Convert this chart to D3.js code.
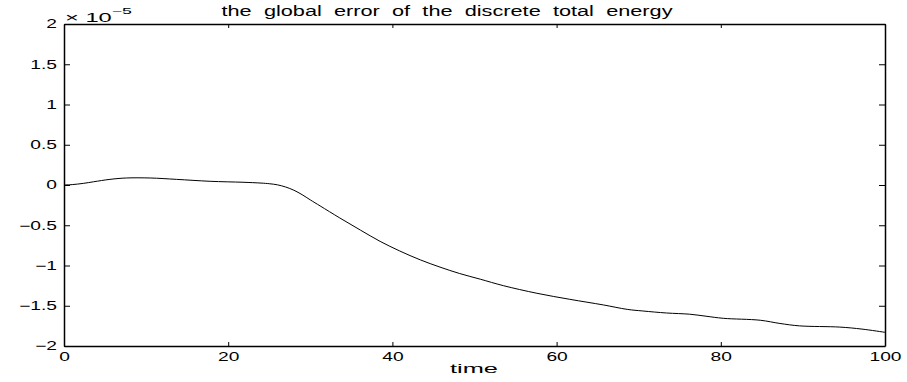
<!DOCTYPE html>
<html>
<head>
<meta charset="utf-8">
<script src="https://cdn.jsdelivr.net/npm/d3@7"></script>
<style>
  body { margin: 0; background: #fff; }
  svg text { font-family: "Liberation Sans", Arial, Helvetica, sans-serif; fill: #000; }
</style>
</head>
<body>
<svg id="chart"></svg>
<script>
/** chart data (error values in units of 1e-5) **/
var timeVals = [0, 1, 2.35, 3.6, 5.6, 7.6, 10.5, 13.7, 17.8, 21.8, 24, 25, 26, 27, 28, 29, 30,
                31.2, 33.6, 36.1, 38.5, 40.9, 43.4, 45.8, 48.2, 50.7, 53.5, 57.6, 61.6, 65.7,
                68.6, 70.5, 73.4, 76.2, 78.2, 80.3, 84.8, 87.2, 89.6, 94.5, 97.2, 100];
var errVals  = [0, 0.005, 0.02, 0.04, 0.07, 0.087, 0.087, 0.07, 0.046, 0.034, 0.024, 0.016, 0.002, -0.025, -0.065, -0.12, -0.185,
                -0.26, -0.41, -0.56, -0.70, -0.82, -0.93, -1.02, -1.10, -1.17, -1.25, -1.345, -1.42, -1.49,
                -1.545, -1.565, -1.59, -1.605, -1.63, -1.656, -1.68, -1.72, -1.75, -1.765, -1.79, -1.83];
var xTicks = [0, 20, 40, 60, 80, 100];
var yTicks = [-2, -1.5, -1, -0.5, 0, 0.5, 1, 1.5, 2];

var titleText = "the global error of the discrete total energy";
var xLabelText = "time";

var width = 907;
var height = 382;
var margin = {left: 64, right: 22, top: 24, bottom: 36};
var stretchK = 1.6;     // matlab export has wide glyphs

var svg = d3.select("#chart")
    .attr("width", width)
    .attr("height", height);

var xScale = d3.scaleLinear()
    .domain([0, 100])
    .range([margin.left, width - margin.right]);

var yScale = d3.scaleLinear()
    .domain([-2, 2])
    .range([height - margin.bottom, margin.top]);

function fmt(d) {
    return (d < 0 ? "\u2212" : "") + Math.abs(d);
}

// stretch text horizontally
function stretch(sel, k, fixed) {
    sel.each(function() {
        var len = fixed || this.getComputedTextLength() * k;
        d3.select(this)
            .attr("textLength", len)
            .attr("lengthAdjust", "spacingAndGlyphs");
    });
}

// the line
var line = d3.line()
    .x(function(d, i) { return xScale(timeVals[i]); })
    .y(function(d) { return yScale(d); })
    .curve(d3.curveCatmullRom);

svg.append("path")
    .datum(errVals)
    .attr("d", line)
    .attr("fill", "none")
    .attr("stroke", "#000")
    .attr("stroke-width", 1);

// axes (inward ticks on all four sides)
var gx = svg.append("g")
    .attr("transform", "translate(0," + yScale(-2) + ")")
    .call(d3.axisBottom(xScale).tickValues(xTicks).tickFormat(fmt)
        .tickSizeInner(-4).tickSizeOuter(0).tickPadding(6));

var gxTop = svg.append("g")
    .attr("transform", "translate(0," + yScale(2) + ")")
    .call(d3.axisTop(xScale).tickValues(xTicks).tickFormat("")
        .tickSizeInner(-4).tickSizeOuter(0));

var gy = svg.append("g")
    .attr("transform", "translate(" + xScale(0) + ",0)")
    .call(d3.axisLeft(yScale).tickValues(yTicks).tickFormat(fmt)
        .tickSizeInner(-6).tickSizeOuter(0).tickPadding(7));

var gyRight = svg.append("g")
    .attr("transform", "translate(" + xScale(100) + ",0)")
    .call(d3.axisRight(yScale).tickValues(yTicks).tickFormat("")
        .tickSizeInner(-6).tickSizeOuter(0));

svg.selectAll(".domain")
    .attr("stroke", "#000")
    .attr("stroke-width", 1.5);
svg.selectAll(".tick line")
    .attr("stroke", "#000")
    .attr("stroke-width", 1);

gx.selectAll("text").attr("font-size", 12).attr("dy", "0.71em");
gy.selectAll("text").attr("font-size", 12);
stretch(gx.selectAll(".tick text"), stretchK);
stretch(gy.selectAll(".tick text"), stretchK);

// exponent label
var expo = svg.append("text")
    .attr("x", 65)
    .attr("y", 22)
    .attr("font-size", 12);
expo.append("tspan").text("\u00d7 10");
expo.append("tspan").attr("dy", -8).attr("font-size", 9).text("\u22125");
stretch(expo, 1.55, 67);

// title
var title = svg.append("text")
    .attr("x", 447)
    .attr("y", 16)
    .attr("text-anchor", "middle")
    .attr("font-size", 14)
    .attr("word-spacing", 4)
    .text(titleText);
stretch(title, 1, 451);

// x label
var xl = svg.append("text")
    .attr("x", 474)
    .attr("y", 373)
    .attr("text-anchor", "middle")
    .attr("font-size", 12)
    .text(xLabelText);
stretch(xl, 1, 48);
</script>
</body>
</html>
